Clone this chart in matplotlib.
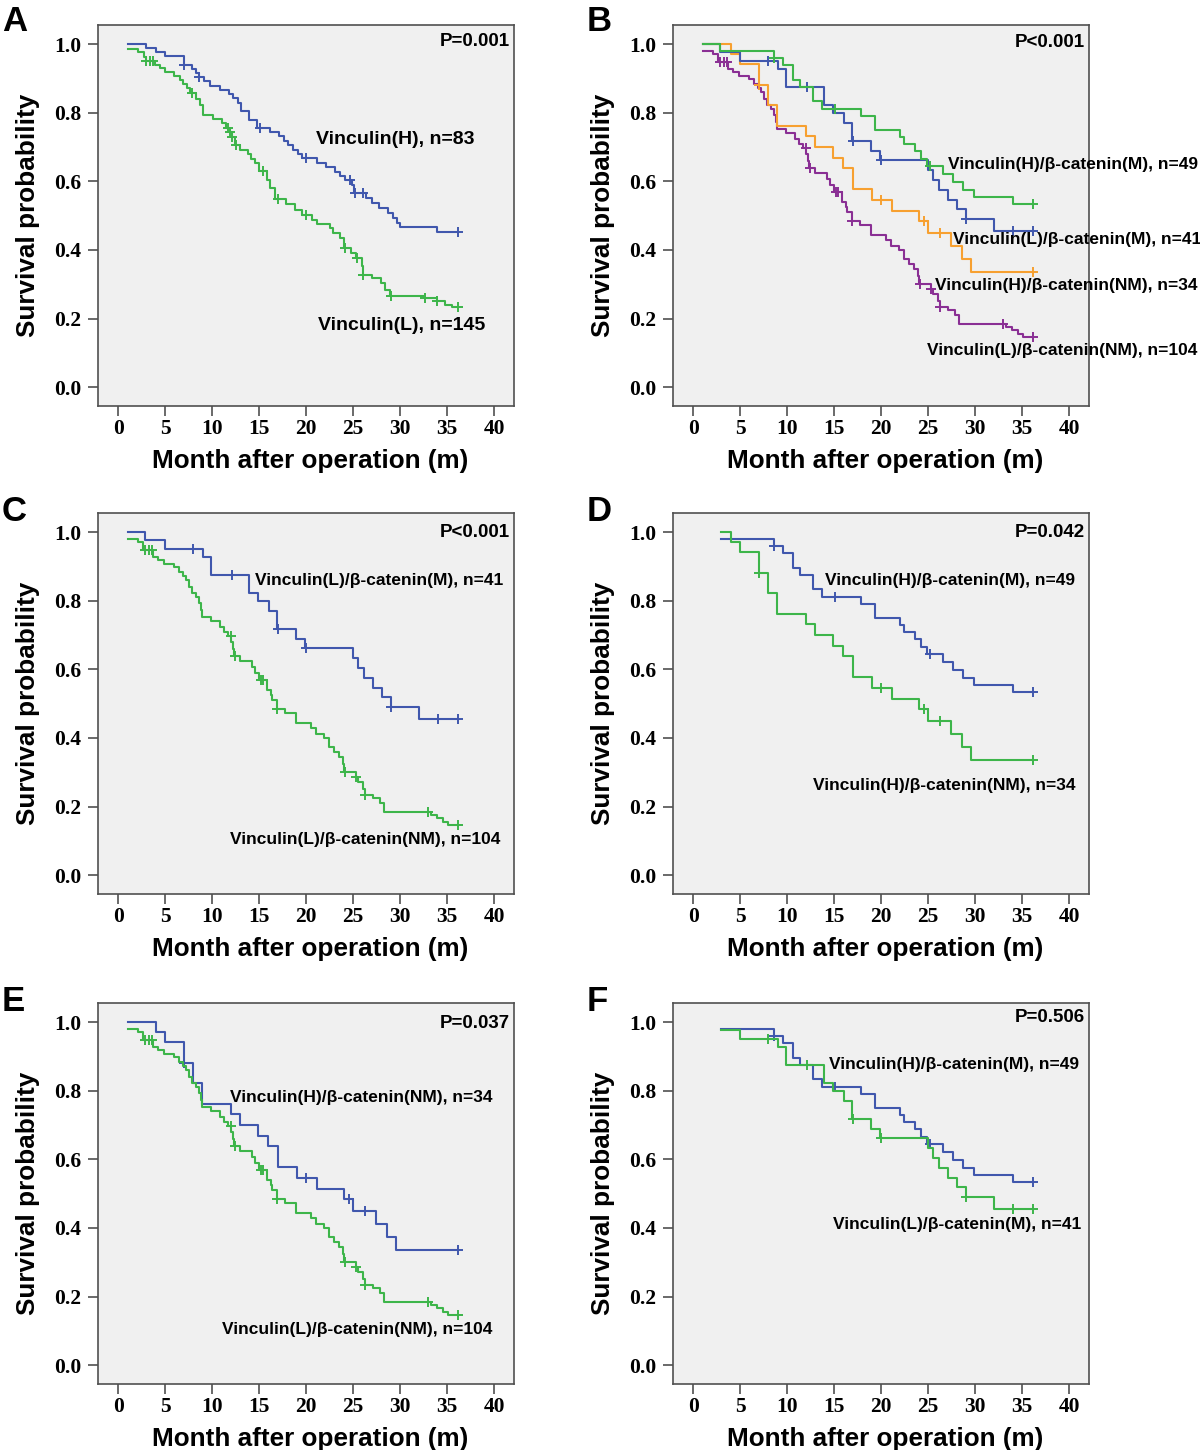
import numpy as np
import matplotlib.pyplot as plt

plt.rcParams['font.family'] = ['Liberation Sans', 'DejaVu Sans']

# Kaplan-Meier curves: event times (months), survival after each event, censor times
vh_t = [3.0, 4.0, 5.0, 7.0, 7.8, 8.3, 8.6, 9.1, 9.8, 10.8, 11.8, 12.2, 12.7, 13.1, 13.9, 14.8,
        16.1, 17.1, 17.6, 18.1, 18.6, 19.1, 19.5, 21.1, 22.1, 23.1, 23.6, 24.1, 24.9, 25.1,
        26.4, 27.0, 27.7, 28.7, 29.2, 29.7, 30.0, 33.9]
vh_s = [0.988, 0.977, 0.965, 0.940, 0.928, 0.916, 0.904, 0.892, 0.879, 0.867, 0.854, 0.842, 0.829, 0.805, 0.780, 0.757,
        0.743, 0.731, 0.718, 0.705, 0.692, 0.680, 0.668, 0.654, 0.641, 0.628, 0.616, 0.604, 0.590, 0.565,
        0.551, 0.537, 0.522, 0.507, 0.493, 0.480, 0.466, 0.452]
vh_c = [7.0, 8.6, 15.1, 20.0, 24.7, 25.2, 26.0, 36.1]

vl_t = [1.0, 2.1, 2.7, 3.0, 3.9, 4.4, 5.0, 5.9, 6.6, 6.9, 7.3, 7.6, 8.3, 8.7, 9.05, 10.1, 11.0, 11.5,
        11.9, 12.1, 12.4, 12.95, 13.8, 14.1, 14.55, 15.0, 15.8, 16.15, 16.7, 17.85, 18.8, 19.6, 20.6,
        21.1, 22.5, 22.9, 23.6, 24.0, 24.8, 25.3, 25.9, 26.0, 27.0, 27.9, 28.4, 28.9, 32.5, 33.9, 34.8, 35.5]
vl_s = [0.986, 0.976, 0.964, 0.951, 0.940, 0.930, 0.918, 0.908, 0.896, 0.883, 0.871, 0.857, 0.840, 0.823, 0.794, 0.781, 0.770, 0.757,
        0.745, 0.730, 0.705, 0.692, 0.680, 0.665, 0.653, 0.630, 0.604, 0.580, 0.549, 0.535, 0.517, 0.502, 0.488,
        0.476, 0.464, 0.449, 0.434, 0.405, 0.390, 0.376, 0.352, 0.328, 0.318, 0.303, 0.284, 0.266, 0.260, 0.250, 0.240, 0.233]
vl_c = [3.0, 3.4, 3.7, 7.9, 11.7, 11.9, 12.1, 12.5, 15.4, 17.0, 20.0, 24.1, 25.4, 26.0, 29.0, 32.65, 33.9, 36.1]

# Vinculin(H)/beta-catenin(M), n=49
hm_t = [2.9, 8.55, 9.6, 10.65, 11.4, 12.76, 13.7, 17.8, 19.3, 22.0, 22.4, 23.6, 24.2, 24.9,
        26.6, 27.6, 28.7, 29.9, 34.0]
hm_s = [0.980, 0.959, 0.939, 0.897, 0.875, 0.834, 0.812, 0.792, 0.751, 0.730, 0.708, 0.688, 0.666, 0.644,
        0.621, 0.598, 0.576, 0.554, 0.533]
hm_c = [8.6, 15.1, 25.2, 36.1]

# Vinculin(L)/beta-catenin(M), n=41
lm_t = [2.9, 5.0, 9.0, 9.9, 13.9, 14.9, 16.0, 16.9, 18.9, 19.9, 25.0, 25.5, 26.1, 27.1, 28.1, 29.0, 32.0]
lm_s = [0.976, 0.951, 0.927, 0.876, 0.824, 0.798, 0.771, 0.717, 0.690, 0.661, 0.634, 0.603, 0.576, 0.547,
        0.518, 0.489, 0.456]
lm_c = [8.0, 12.1, 17.0, 20.0, 29.0, 34.0, 36.1]

# Vinculin(H)/beta-catenin(NM), n=34
hnm_t = [4.0, 5.0, 7.0, 8.0, 8.9, 12.0, 13.0, 14.9, 15.9, 17.0, 19.0, 21.1, 24.0, 25.0, 27.4, 28.6, 29.6]
hnm_s = [0.971, 0.941, 0.882, 0.822, 0.761, 0.731, 0.700, 0.669, 0.640, 0.577, 0.547, 0.514, 0.484, 0.450,
         0.411, 0.373, 0.336]
hnm_c = [7.0, 20.0, 24.5, 26.2, 36.1]

# Vinculin(L)/beta-catenin(NM), n=104
lnm_t = [1.0, 2.06, 2.66, 3.65, 4.18, 4.89, 5.96, 6.5, 6.84, 7.2, 7.55, 7.9, 8.26, 8.6, 8.8, 8.9, 9.86,
         10.85, 11.3, 11.7, 12.0, 12.2, 12.3, 13.0, 14.2, 14.5, 15.0, 15.8, 16.2, 16.4, 16.85, 17.7,
         18.9, 20.5, 21.0, 21.9, 22.4, 23.0, 23.5, 23.9, 24.05, 25.3, 25.5, 26.0, 26.2, 27.1, 27.8,
         28.3, 33.3, 33.9, 34.6, 35.1]
lnm_s = [0.981, 0.970, 0.948, 0.929, 0.919, 0.908, 0.898, 0.885, 0.873, 0.861, 0.841, 0.824, 0.810, 0.793, 0.773, 0.754, 0.741,
         0.725, 0.710, 0.697, 0.680, 0.660, 0.640, 0.625, 0.608, 0.590, 0.568, 0.540, 0.525, 0.510, 0.485, 0.473,
         0.443, 0.428, 0.413, 0.399, 0.374, 0.360, 0.345, 0.324, 0.301, 0.287, 0.272, 0.250, 0.233, 0.224, 0.209,
         0.185, 0.175, 0.166, 0.156, 0.146]
lnm_c = [2.8, 3.3, 3.6, 11.95, 12.4, 15.2, 15.4, 16.9, 24.1, 25.3, 26.2, 32.9, 36.1]

BLUE = '#4057ad'
GREEN = '#3db54a'
ORANGE = '#f7a030'
PURPLE = '#8a2f94'

curves = {
    'vh': (vh_t, vh_s, vh_c), 'vl': (vl_t, vl_s, vl_c),
    'hm': (hm_t, hm_s, hm_c), 'lm': (lm_t, lm_s, lm_c),
    'hnm': (hnm_t, hnm_s, hnm_c), 'lnm': (lnm_t, lnm_s, lnm_c),
}


def draw_km(ax, key, color, t0=1.0, t_end=36.1):
    t, s, cens = (np.asarray(a, dtype=float) for a in curves[key])
    before = t <= t0
    s0 = s[before][-1] if before.any() else 1.0
    keep = ~before
    xs = np.r_[t0, t[keep], t_end]
    ys = np.r_[s0, s[keep], s[-1]]
    ax.step(xs, ys, where='post', color=color, lw=1.5)
    cens = cens[cens >= t0]
    idx = np.searchsorted(t, cens, side='right') - 1
    cy = np.where(idx >= 0, s[np.clip(idx, 0, None)], 1.0)
    ax.plot(cens, cy, '+', color=color, ms=6.5, mew=1.4)


# panel layout in pixels (left, top) ; all axes 416 x 381
W, H = 1200, 1450
panels = [
    dict(letter='A', pos=(98, 25), lpos=(2, 5), p='P=0.001', py=1.009, t0=1.0,
         lines=[('vh', BLUE), ('vl', GREEN)],
         labels=[('Vinculin(H), n=83', 21.0, 0.723), ('Vinculin(L), n=145', 21.3, 0.18)], fs=14),
    dict(letter='B', pos=(673, 25), lpos=(587, 5), p='P<0.001', py=1.006, t0=1.0,
         lines=[('lnm', PURPLE), ('hnm', ORANGE), ('lm', BLUE), ('hm', GREEN)],
         labels=[('Vinculin(H)/β-catenin(M), n=49', 27.1, 0.65),
                 ('Vinculin(L)/β-catenin(M), n=41', 27.6, 0.431),
                 ('Vinculin(H)/β-catenin(NM), n=34', 25.7, 0.295),
                 ('Vinculin(L)/β-catenin(NM), n=104', 24.9, 0.106)], fs=12.5),
    dict(letter='C', pos=(98, 513), lpos=(2, 495), p='P<0.001', py=0.998, t0=1.0,
         lines=[('lm', BLUE), ('lnm', GREEN)],
         labels=[('Vinculin(L)/β-catenin(M), n=41', 14.6, 0.859),
                 ('Vinculin(L)/β-catenin(NM), n=104', 11.9, 0.105)], fs=12.5),
    dict(letter='D', pos=(673, 513), lpos=(587, 495), p='P=0.042', py=1.0, t0=2.95,
         lines=[('hm', BLUE), ('hnm', GREEN)],
         labels=[('Vinculin(H)/β-catenin(M), n=49', 14.0, 0.859),
                 ('Vinculin(H)/β-catenin(NM), n=34', 12.7, 0.26)], fs=12.5),
    dict(letter='E', pos=(98, 1003), lpos=(2, 985), p='P=0.037', py=0.997, t0=1.0,
         lines=[('hnm', BLUE), ('lnm', GREEN)],
         labels=[('Vinculin(H)/β-catenin(NM), n=34', 11.9, 0.78),
                 ('Vinculin(L)/β-catenin(NM), n=104', 11.0, 0.103)], fs=12.5),
    dict(letter='F', pos=(673, 1003), lpos=(587, 985), p='P=0.506', py=1.013, t0=2.95,
         lines=[('hm', BLUE), ('lm', GREEN)],
         labels=[('Vinculin(H)/β-catenin(M), n=49', 14.4, 0.877),
                 ('Vinculin(L)/β-catenin(M), n=41', 14.9, 0.411)], fs=12.5),
]

fig = plt.figure(figsize=(12, 14.5), dpi=100)

for pnl in panels:
    x0, y0 = pnl['pos']
    ax = fig.add_axes([x0 / W, 1 - (y0 + 381) / H, 416 / W, 381 / H])
    ax.set_facecolor('#f0f0f0')
    for key, col in pnl['lines']:
        draw_km(ax, key, col, t0=pnl['t0'])
    ax.set_xlim(-2.15, 42.1)
    ax.set_ylim(-0.055, 1.056)
    ax.set_xticks(np.arange(0, 41, 5))
    ax.set_yticks(np.arange(0, 1.01, 0.2))
    ax.set_yticklabels(['%.1f' % v for v in np.arange(0, 1.01, 0.2)])
    ax.tick_params(direction='out', length=7, width=1.2, color='#505050')
    ax.tick_params(axis='y', pad=5)
    ax.tick_params(axis='x', pad=2)
    for lab in ax.get_xticklabels() + ax.get_yticklabels():
        lab.set_fontfamily('Liberation Serif')
        lab.set_fontweight('bold')
        lab.set_fontsize(15.5)
    for sp in ax.spines.values():
        sp.set_color('#505050')
        sp.set_linewidth(1.2)
    ax.set_xlabel('Month after operation (m)', fontsize=18.8, fontweight='bold')
    ax.xaxis.set_label_coords(0.51, -0.112)
    ax.set_ylabel('Survival probability', fontsize=18.8, fontweight='bold')
    ax.yaxis.set_label_coords(-0.14, 0.5)
    ax.text(41.7, pnl['py'], pnl['p'], ha='right', va='center', fontsize=13.5, fontweight='bold')
    for txt, lx, ly in pnl['labels']:
        ax.text(lx, ly, txt, ha='left', va='center', fontsize=pnl['fs'], fontweight='bold',
                clip_on=False)
    lx, ly = pnl['lpos']
    fig.text(lx / W, 1 - ly / H, pnl['letter'], ha='left', va='top', fontsize=25, fontweight='bold')

fig.savefig('out.png', dpi=100)
